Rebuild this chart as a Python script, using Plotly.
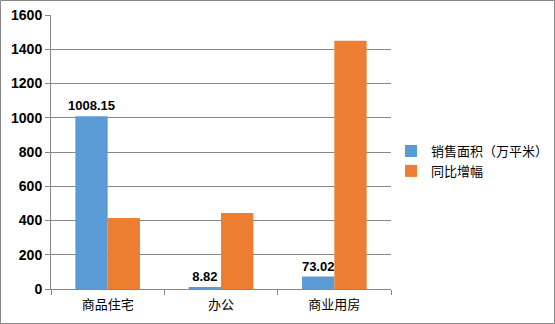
import plotly.graph_objects as go

categories = ["商品住宅", "办公", "商业用房"]
area = [1008.15, 8.82, 73.02]
growth = [414, 444, 1450]
area_labels = ["1008.15", "8.82", "73.02"]
y_ticks = [0, 200, 400, 600, 800, 1000, 1200, 1400, 1600]

W, H = 555, 324
ml, mr, mt, mb = 51, 164, 15, 35
pw, ph = W - ml - mr, H - mt - mb

fig = go.Figure()
fig.add_trace(go.Bar(
    x=categories, y=area, name="销售面积（万平米）", legendgroup="a",
    marker=dict(color="#5B9BD5", line=dict(width=0)),
    text=area_labels, textposition="outside", constraintext="none",
    textfont=dict(family="Liberation Sans, Arial", size=13, color="#000000"),
    texttemplate="<b>%{text}</b>", cliponaxis=False,
))
fig.add_trace(go.Bar(
    x=categories, y=growth, name="同比增幅", legendgroup="b",
    marker=dict(color="#ED7D31", line=dict(width=0)),
))

fig.update_layout(
    width=W, height=H,
    margin=dict(l=ml, r=mr, t=mt, b=mb, autoexpand=False),
    paper_bgcolor="#FFFFFF", plot_bgcolor="#FFFFFF",
    barmode="group", bargap=0.43, bargroupgap=0,
    font=dict(family="Liberation Sans, Noto Sans CJK SC", size=13, color="#000000"),
    legend=dict(x=391 / W, y=0.467, xref="container", xanchor="left", yanchor="middle",
                font=dict(family="Noto Sans CJK SC", size=13, color="#000000"),
                itemwidth=30, tracegroupgap=6, traceorder="normal",
                bgcolor="rgba(0,0,0,0)"),
    showlegend=True,
)
fig.update_yaxes(
    range=[0, 1600], tickvals=y_ticks, showgrid=True, gridcolor="#878787", gridwidth=1,
    showline=True, linecolor="#878787", linewidth=1, ticks="outside", ticklen=5,
    tickcolor="#878787", zeroline=False,
    tickfont=dict(family="Liberation Sans, Arial", size=14, color="#000000", weight="bold"),
)
fig.update_xaxes(
    showline=True, linecolor="#878787", linewidth=1, ticks="outside", ticklen=5,
    tickcolor="#878787", tickson="boundaries", ticklabelstandoff=3,
    tickfont=dict(family="Noto Sans CJK SC", size=13, color="#000000"),
)
# outer border
fig.add_shape(type="rect", xref="paper", yref="paper",
              x0=(0.5 - ml) / pw, x1=(W - 0.5 - ml) / pw,
              y0=(H - mb - (H - 0.5)) / ph, y1=(H - mb - 0.5) / ph,
              line=dict(color="#878787", width=1), fillcolor="rgba(0,0,0,0)", layer="above")
fig.write_html("out.html")
